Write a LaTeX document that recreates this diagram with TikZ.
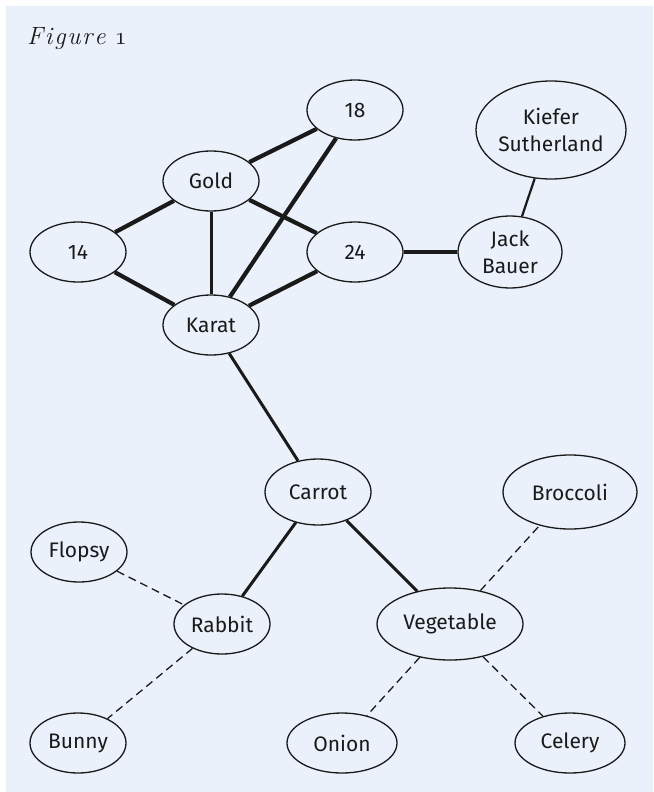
\documentclass[tikz,border=0pt]{standalone}
\usepackage{fontspec}
\setsansfont{Fira Sans}
\usetikzlibrary{shapes.geometric}
\definecolor{bgblue}{HTML}{EAF1FA}
\definecolor{ink}{HTML}{1A1A1A}
\newcommand{\osone}{{\fontencoding{OML}\fontfamily{cmm}\fontseries{m}\fontshape{it}\selectfont 1}}
\newcommand{\trk}{\kern1.8pt}
\tikzset{
  nd/.style={ellipse, draw=ink, line width=1.3pt, fill=bgblue, inner sep=0pt,
    font=\sffamily\fontsize{21}{27}\selectfont, text=ink, align=center},
  sm/.style={nd, minimum width=96pt, minimum height=60pt},
  heavy/.style={draw=ink, line width=4.2pt},
  mid/.style={draw=ink, line width=3pt},
  lite/.style={draw=ink, line width=2.2pt},
  dsh/.style={draw=ink, line width=1.3pt, dash pattern=on 8pt off 5pt},
}
\begin{document}
\begin{tikzpicture}[x=1pt,y=-1pt]
\useasboundingbox (0,0) rectangle (653,792);
\fill[white] (0,0) rectangle (653,792);
\fill[bgblue] (6,6) rectangle (653,792);
\node[anchor=base west, inner sep=0pt, font=\itshape\fontsize{25}{25}\selectfont, text=ink] (title) at (27,45) {F\trk i\trk g\trk u\trk r\trk e\hspace{9pt}\osone};

\node[sm] (n18) at (355,110) {18};
\node[nd, minimum width=150pt, minimum height=98pt] (kief) at (551,130) {Kiefer\\Sutherland};
\node[sm] (gold) at (211,181) {Gold};
\node[sm] (n14) at (78,252) {14};
\node[sm] (n24) at (355,252) {24};
\node[nd, minimum width=104pt, minimum height=72pt] (jack) at (510,252) {Jack\\Bauer};
\node[sm] (karat) at (211,325) {Karat};
\node[nd, minimum width=106pt, minimum height=66pt] (carrot) at (318,492) {Carrot};
\node[nd, minimum width=134pt, minimum height=74pt] (brocc) at (570,492) {Broccoli};
\node[sm] (flopsy) at (79,552) {Flopsy};
\node[sm] (rabbit) at (222,624) {Rabbit};
\node[nd, minimum width=146pt, minimum height=72pt] (veg) at (450,624) {Vegetable};
\node[sm] (bunny) at (78,743) {Bunny};
\node[nd, minimum width=110pt, minimum height=60pt] (onion) at (342,743) {Onion};
\node[nd, minimum width=110pt, minimum height=60pt] (celery) at (570,743) {Celery};

\draw[heavy] (gold) -- (n18);
\draw[heavy] (gold) -- (n14);
\draw[mid] (gold) -- (karat);
\draw[heavy] (gold) -- (n24);
\draw[heavy] (n14) -- (karat);
\draw[heavy] (karat) -- (n18);
\draw[heavy] (karat) -- (n24);
\draw[heavy] (n24) -- (jack);
\draw[lite] (kief) -- (jack);
\draw[mid] (karat) -- (carrot);
\draw[mid] (carrot) -- (rabbit);
\draw[mid] (carrot) -- (veg);
\draw[dsh] (flopsy) -- (rabbit);
\draw[dsh] (rabbit) -- (bunny);
\draw[dsh] (veg) -- (brocc);
\draw[dsh] (veg) -- (onion);
\draw[dsh] (veg) -- (celery);
\end{tikzpicture}
\end{document}
